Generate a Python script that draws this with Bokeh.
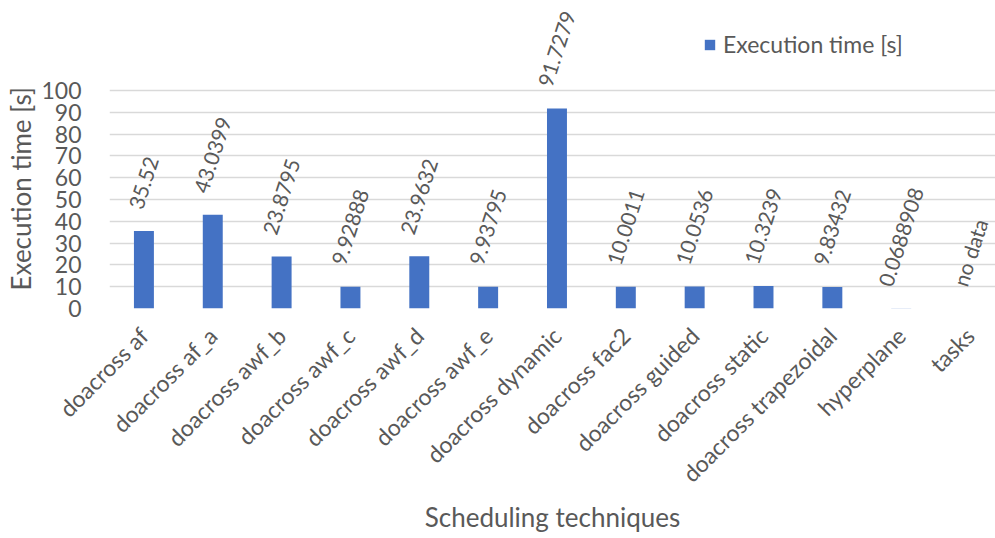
import math
from bokeh.plotting import figure
from bokeh.models import Range1d, FixedTicker, Legend, LegendItem, ColumnDataSource, Title
from bokeh.core.properties import value
from bokeh.embed import file_html
from bokeh.resources import INLINE

categories = ["doacross af", "doacross af_a", "doacross awf_b", "doacross awf_c",
              "doacross awf_d", "doacross awf_e", "doacross dynamic", "doacross fac2",
              "doacross guided", "doacross static", "doacross trapezoidal",
              "hyperplane", "tasks"]
exec_times = [35.52, 43.0399, 23.8795, 9.92888, 23.9632, 9.93795, 91.7279,
              10.0011, 10.0536, 10.3239, 9.83432, 0.0688908, float("nan")]
value_labels = ["35.52", "43.0399", "23.8795", "9.92888", "23.9632", "9.93795",
                "91.7279", "10.0011", "10.0536", "10.3239", "9.83432",
                "0.0688908", "no data"]
y_ticks = [0, 10, 20, 30, 40, 50, 60, 70, 80, 90, 100]

FONT = "Lato"
TXT = "#595959"
BAR = "#4472C4"

xs = list(range(len(categories)))
p = figure(width=995, height=538, output_backend="svg", toolbar_location=None,
           x_range=Range1d(-0.5, 12.37), y_range=Range1d(0, 139))
p.min_border_left = 107
p.min_border_right = 0
p.min_border_top = 5
p.min_border_bottom = 230
p.outline_line_color = None
p.background_fill_color = "white"
p.border_fill_color = "white"

bars = p.vbar(x=xs, top=[0 if math.isnan(v) else v for v in exec_times],
              width=0.29, fill_color=BAR, line_color=None)

# data labels, rotated; offset computed from approximate rendered length
ang = math.radians(72)
fs = 21
def est_len(s):
    w = 0
    for ch in s:
        if ch in ". ":
            w += 0.26 * fs
        elif ch.isdigit():
            w += 0.58 * fs
        else:
            w += 0.52 * fs
    return w
offs = []
for s in value_labels:
    L = est_len(s)
    h = 15
    offs.append(-(20 + 0.5 * (L * math.sin(ang) + h * math.cos(ang))))
src = ColumnDataSource(dict(x=xs, y=[0 if math.isnan(v) else v for v in exec_times],
                            t=value_labels, yo=offs))
p.text(x="x", y="y", text="t", y_offset="yo", angle=ang, source=src,
       text_align="center", text_baseline="middle", text_color=TXT,
       text_font=value(FONT), text_font_size=f"{fs}px")

# axes
p.xaxis.ticker = FixedTicker(ticks=xs)
p.xaxis.major_label_overrides = {i: c for i, c in enumerate(categories)}
p.xaxis.major_label_orientation = math.pi / 4
p.xaxis.major_label_text_font = FONT
p.xaxis.major_label_text_font_size = "23px"
p.xaxis.major_label_text_color = TXT
p.xaxis.major_tick_line_color = None
p.xaxis.minor_tick_line_color = None
p.xaxis.axis_line_color = None
p.xaxis.major_label_standoff = 17
p.xaxis.axis_label = "Scheduling techniques"
p.xaxis.axis_label_text_font = FONT
p.xaxis.axis_label_text_font_size = "26px"
p.xaxis.axis_label_text_font_style = "normal"
p.xaxis.axis_label_text_color = TXT
p.xaxis.axis_label_standoff = 1

p.yaxis.ticker = FixedTicker(ticks=y_ticks)
p.yaxis.major_label_text_font = FONT
p.yaxis.major_label_text_font_size = "23px"
p.yaxis.major_label_text_color = TXT
p.yaxis.major_tick_line_color = None
p.yaxis.minor_tick_line_color = None
p.yaxis.axis_line_color = None
p.yaxis.major_label_standoff = 22

ytitle = Title(text="Execution time [s]", align="left", text_font=FONT,
               text_font_size="26px", text_font_style="normal", text_color=TXT,
               offset=18, standoff=4)
p.add_layout(ytitle, "left")

p.xgrid.grid_line_color = None
p.ygrid.ticker = FixedTicker(ticks=y_ticks)
p.ygrid.grid_line_color = "#d9d9d9"
p.ygrid.grid_line_width = 1.5

legend = Legend(items=[LegendItem(label="Execution time [s]", renderers=[bars])],
                location=(594, 250), orientation="horizontal")
legend.label_text_font = FONT
legend.label_text_font_size = "23px"
legend.label_text_color = TXT
legend.glyph_width = 13
legend.glyph_height = 13
legend.label_standoff = 7
legend.padding = 0
legend.margin = 0
legend.spacing = 0
legend.border_line_color = None
legend.background_fill_alpha = 0
p.add_layout(legend)

open("out.html", "w").write(file_html(p, INLINE))
